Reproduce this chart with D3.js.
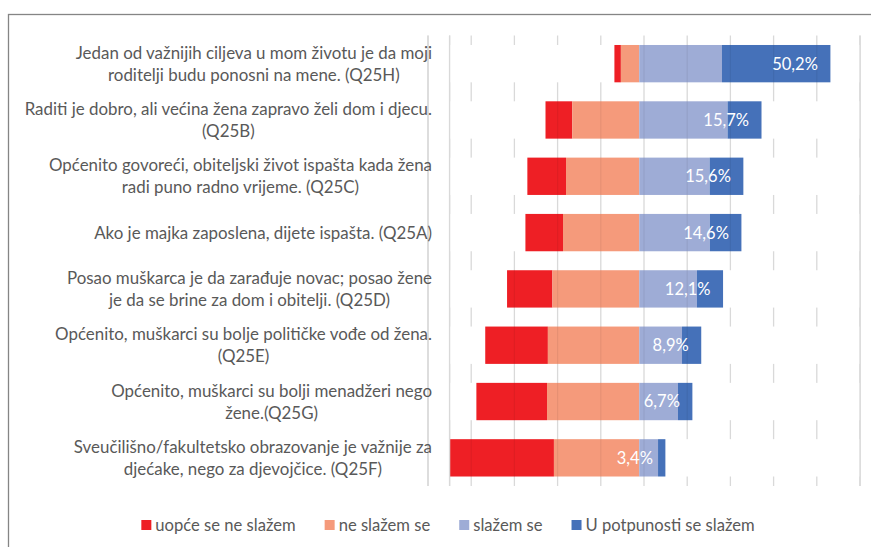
<!DOCTYPE html>
<html>
<head>
<meta charset="utf-8">
<script src="https://cdn.jsdelivr.net/npm/d3@7"></script>
<style>
  body { margin: 0; background: #fff; }
  svg { display: block; font-family: "Lato", "Open Sans", sans-serif; }
</style>
</head>
<body>
<svg id="chart" width="871" height="547"></svg>
<script>
// Category labels (line breaks as in the original)
const categories = [
    ["Jedan od važnijih ciljeva u mom životu je da moji", "roditelji budu ponosni na mene. (Q25H)"],
    ["Raditi je dobro, ali većina žena zapravo želi dom i djecu.", "(Q25B)"],
    ["Općenito govoreći, obiteljski život ispašta kada žena", "radi puno radno vrijeme. (Q25C)"],
    ["Ako je majka zaposlena, dijete ispašta. (Q25A)"],
    ["Posao muškarca je da zarađuje novac; posao žene", "je da se brine za dom i obitelji. (Q25D)"],
    ["Općenito, muškarci su bolje političke vođe od žena.", "(Q25E)"],
    ["Općenito, muškarci su bolji menadžeri nego", "žene.(Q25G)"],
    ["Sveučilišno/fakultetsko obrazovanje je važnije za", "djećake, nego za djevojčice. (Q25F)"]
];

// Series values in %
const stronglyDisagree = [3.0, 12.4, 17.9, 17.4, 21.0, 29.0, 32.7, 48.4];
const disagree = [8.5, 31.0, 33.9, 35.3, 40.2, 42.3, 42.7, 39.5];
const agree = [38.3, 40.9, 32.6, 32.7, 26.7, 19.8, 17.9, 8.7];
const stronglyAgree = [50.2, 15.7, 15.6, 14.6, 12.1, 8.9, 6.7, 3.4];

const seriesNames = ["uopće se ne slažem", "ne slažem se", "slažem se", "U potpunosti se slažem"];
const seriesColors = ["#ee1f25", "#f59a7b", "#9eacd6", "#4571b9"];

// Axis ticks (hidden labels), spacer offset used to center the bars
const axisTicks = [0, 20, 40, 60, 80, 100, 120, 140, 160, 180, 200];
const axisStart = 10;
const center = 97.8;

const svg = d3.select("#chart");

// chart frame
svg.append("rect")
    .attr("x", 8.5).attr("y", 14.5)
    .attr("width", 1000).attr("height", 700)
    .attr("fill", "none")
    .attr("stroke", "#858585")
    .attr("stroke-width", 1.3);

const plotTop = 35.5, plotBottom = 486;
const x = d3.scaleLinear().domain([0, 200]).range([428, 860]);
const y = d3.scaleBand()
    .domain(categories.map((d, i) => i))
    .range([plotTop, plotBottom])
    .paddingInner(0.337)
    .paddingOuter(0.1685);

// build rows
const rows = categories.map((label, i) => {
    const vals = [stronglyDisagree[i], disagree[i], agree[i], stronglyAgree[i]];
    let start = center - vals[0] - vals[1];
    const segs = vals.map((v, k) => {
        const s = { k: k, x0: start, x1: start + v, v: v };
        start += v;
        return s;
    });
    return { i: i, label: label, segs: segs, start: segs[0].x0, end: segs[3].x1 };
});

// gridlines
svg.append("g")
    .selectAll("line")
    .data(axisTicks.concat([axisStart]))
    .join("line")
    .attr("x1", d => x(d)).attr("x2", d => x(d))
    .attr("y1", plotTop).attr("y2", plotBottom)
    .attr("stroke", "#d9d9d9")
    .attr("stroke-width", 1.3);

// white spacer series (hides gridlines beside bars)
const spacers = svg.append("g");
rows.forEach(r => {
    spacers.append("rect")
        .attr("x", x(axisStart)).attr("y", y(r.i))
        .attr("width", x(r.start) - x(axisStart))
        .attr("height", y.bandwidth())
        .attr("fill", "#fff");
    spacers.append("rect")
        .attr("x", x(r.end)).attr("y", y(r.i))
        .attr("width", x(200) - x(r.end))
        .attr("height", y.bandwidth())
        .attr("fill", "#fff");
});

// bars
const barG = svg.append("g")
    .selectAll("g")
    .data(rows)
    .join("g");

barG.selectAll("rect")
    .data(r => r.segs.map(s => Object.assign({ i: r.i }, s)))
    .join("rect")
    .attr("x", d => x(d.x0))
    .attr("y", d => y(d.i))
    .attr("width", d => x(d.x1) - x(d.x0))
    .attr("height", y.bandwidth())
    .attr("fill", d => seriesColors[d.k]);

// faint gridlines showing through the bars
barG.each(function (r) {
    d3.select(this).selectAll("line")
        .data(axisTicks.filter(t => t > r.start && t < r.end))
        .join("line")
        .attr("x1", d => x(d)).attr("x2", d => x(d))
        .attr("y1", y(r.i)).attr("y2", y(r.i) + y.bandwidth())
        .attr("stroke", "#000")
        .attr("stroke-opacity", 0.06)
        .attr("stroke-width", 1.3);
});

// edge lines on top of spacers
svg.append("g")
    .selectAll("line")
    .data([0, axisStart, 200])
    .join("line")
    .attr("x1", d => x(d)).attr("x2", d => x(d))
    .attr("y1", plotTop).attr("y2", plotBottom)
    .attr("stroke", "#d9d9d9")
    .attr("stroke-width", 1.3);

// data labels for "U potpunosti se slažem" (inside end)
svg.append("g")
    .selectAll("text")
    .data(rows)
    .join("text")
    .attr("x", d => x(d.end) - 12.5)
    .attr("y", d => y(d.i) + y.bandwidth() / 2)
    .attr("dy", "0.36em")
    .attr("text-anchor", "end")
    .attr("fill", "#fff")
    .attr("font-size", "16.5px")
    .text(d => d3.format(".1f")(stronglyAgree[d.i]).replace(".", ",") + "%");

// category labels, centered block with right edge at the axis
const labelRight = 432;
const lineH = 22;
svg.append("g")
    .selectAll("text")
    .data(rows)
    .join("text")
    .attr("fill", "#595959")
    .attr("font-size", "16.9px")
    .attr("text-anchor", "middle")
    .each(function (r) {
        const t = d3.select(this);
        const n = r.label.length;
        const cy = y(r.i) + y.bandwidth() / 2;
        r.label.forEach((line, j) => {
            t.append("tspan")
                .attr("y", cy + (j - (n - 1) / 2) * lineH)
                .attr("dy", "0.36em")
                .text(line);
        });
        let maxW = 0;
        t.selectAll("tspan").each(function () {
            maxW = Math.max(maxW, this.getComputedTextLength());
        });
        t.selectAll("tspan").attr("x", labelRight - maxW / 2);
    });

// legend
const legend = svg.append("g");
const legendY = 525;
const items = legend.selectAll("g")
    .data(seriesNames)
    .join("g");
items.append("rect")
    .attr("y", legendY - 5)
    .attr("width", 10).attr("height", 10)
    .attr("fill", (d, i) => seriesColors[i]);
items.append("text")
    .attr("x", 14)
    .attr("y", legendY)
    .attr("dy", "0.36em")
    .attr("fill", "#595959")
    .attr("font-size", "16.6px")
    .text(d => d);
let lx = 0;
const widths = [];
items.each(function () {
    widths.push(d3.select(this).select("text").node().getComputedTextLength() + 14);
});
const totalW = d3.sum(widths) + 29 * (widths.length - 1);
lx = 448 - totalW / 2;
items.attr("transform", (d, i) => {
    const t = `translate(${lx},0)`;
    lx += widths[i] + 29;
    return t;
});
</script>
</body>
</html>
